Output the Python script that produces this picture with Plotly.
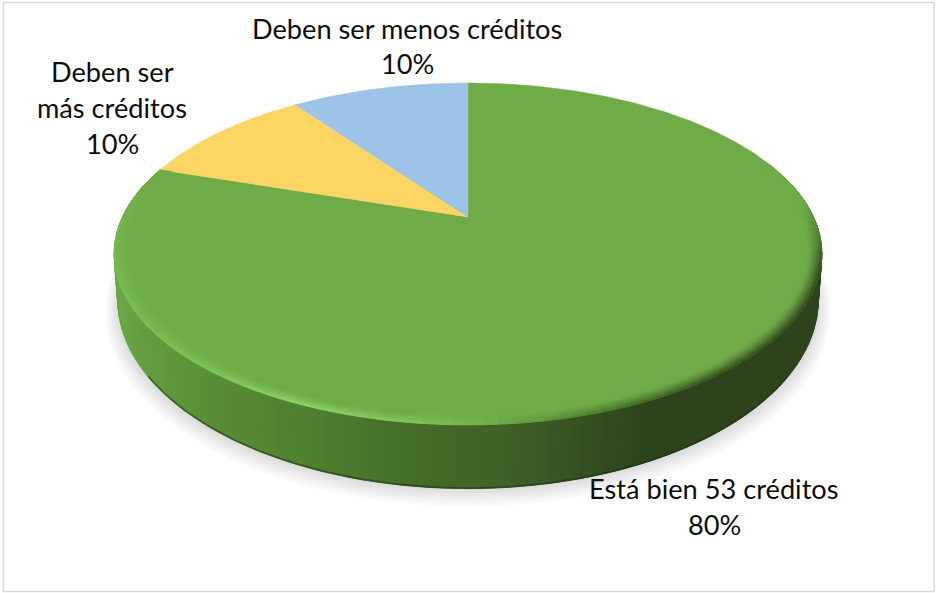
import numpy as np
import plotly.graph_objects as go

# ---- data ----
categories = ["Está bien 53 créditos", "Deben ser más créditos", "Deben ser menos créditos"]
values = [80, 10, 10]
label_lines = [["Está bien 53 créditos"], ["Deben ser", "más créditos"], ["Deben ser menos créditos"]]
colors = ["#6FAC47", "#FCD665", "#9DC3E6"]

# ---- look of the 3D disc ----
W, H = 936, 593
CX = 468.0
PERSP = 0.216
TOP = dict(A=345.5, B=163.0, ya=217.0)
BOT = dict(A=342.0, B=180.0, ya=259.0)
FONT = "Lato"
FS = 27.2
label_pos = [(714, [488.5, 524.5]), (112, [71.5, 107.5, 143.5]), (407, [28.5, 63.5])]

wall_stops = [(115, "#6AA846"), (160, "#5F9A3C"), (230, "#578A36"), (320, "#4E7E30"),
              (420, "#456B2A"), (520, "#3D5F26"), (600, "#324C1F"), (650, "#2C431B"), (830, "#2C431B")]
edge_stops = [(115, "#7ABF52"), (200, "#7FC658"), (290, "#90D86C"), (400, "#84C95E"), (470, "#78B850"),
              (540, "#5C963A"), (620, "#3F6A28"), (720, "#2F491D"), (830, "#2C431B")]


def project(theta_deg, g, r=1.0):
    t = np.radians(np.asarray(theta_deg, dtype=float))
    u, v = r * np.sin(t), r * np.cos(t)
    d = 1 + PERSP * v
    return CX + g["A"] * u / d, g["ya"] - g["B"] * v / d


def hex2rgb(c):
    return np.array([int(c[i:i + 2], 16) for i in (1, 3, 5)], dtype=float)


def ramp(x, stops):
    xs = [s[0] for s in stops]
    rgb = np.array([hex2rgb(s[1]) for s in stops])
    return np.array([np.interp(x, xs, rgb[:, i]) for i in range(3)])


def css(rgb):
    return "rgb(%d,%d,%d)" % tuple(np.round(rgb).astype(int))


fig = go.Figure()


def poly(xs, ys, fill, seam=True, width=1.0):
    fig.add_trace(go.Scatter(
        x=list(xs), y=list(ys), mode="lines", fill="toself", fillcolor=fill,
        line=dict(color=fill if seam else "rgba(0,0,0,0)", width=width if seam else 0),
        hoverinfo="skip", showlegend=False))


# soft shadow under the disc
tt = np.linspace(0, 2 * np.pi, 181)
layers = 9
for i in range(layers):
    f = i / (layers - 1)
    rx, ry = 363 - 13 * f, 195 - 10 * f
    cy = 312 - 7 * f
    poly(CX + rx * np.cos(tt), cy + ry * np.sin(tt), "rgba(0,0,0,0.014)", seam=False)

# side wall
edges = np.arange(78, 282.01, 1.5)
for a, b in zip(edges[:-1], edges[1:]):
    xa, ya = project(a, TOP)
    xb, yb = project(b, TOP)
    xc, yc = project(b, BOT)
    xd, yd = project(a, BOT)
    col = ramp((xa + xb + xc + xd) / 4, wall_stops)
    poly([xa, xb, xc, xd, xa], [ya, yb, yc, yd, ya], css(col))

# thin dark line along the foot of the wall
foot = np.arange(125, 235.01, 1.0)
fx, fy = project(foot, BOT)
fig.add_trace(go.Scatter(x=fx, y=fy - 0.6, mode="lines", line=dict(color="rgba(30,50,18,0.55)", width=1.6),
                         hoverinfo="skip", showlegend=False))

# top face: one wedge per value, from the cumulative shares
total = sum(values)
start = 0.0
spans = []
for val, col in zip(values, colors):
    end = start + 360.0 * val / total
    th = np.linspace(start, end, max(int(end - start) * 2, 2))
    x, y = project(th, TOP)
    ax, ay = project(0.0, TOP, r=0.0)
    poly(np.r_[ax, x, ax], np.r_[ay, y, ay], col, width=0.5)
    spans.append((start, end))
    start = end

# bevel on the rim of the first (green) wedge
base = hex2rgb(colors[0])
rings = np.linspace(1.0, 0.958, 9)
steps = np.arange(spans[0][0] + 70, spans[0][1] + 0.01, 2.0)
for a, b in zip(steps[:-1], steps[1:]):
    m = (a + b) / 2
    # the bevel fades towards the far side of the disc
    fade = np.clip((0.10 - np.cos(np.radians(m))) / 0.4, 0, 1)
    if m > 258:
        fade = max(fade, 0.75 * np.clip((286 - m) / 28, 0, 1))
    xm, _ = project(m, TOP)
    edge = ramp(xm, edge_stops)
    for k, (r1, r2) in enumerate(zip(rings[:-1], rings[1:])):
        s = (r1 + r2) / 2
        rel = (1.0 - s) / (1.0 - rings[-1])
        # peak just inside the outer edge, dying away inwards
        w = fade * (1 - rel) ** 1.4
        col = base * (1 - w) + edge * w
        x1, y1 = project(a, TOP, r1)
        x2, y2 = project(b, TOP, r1)
        x3, y3 = project(b, TOP, r2)
        x4, y4 = project(a, TOP, r2)
        poly([x1, x2, x3, x4, x1], [y1, y2, y3, y4, y1], css(col), width=0.6)

# labels
ann = []
for lines, val, (lx, lys) in zip(label_lines, values, label_pos):
    pct = "%d%%" % round(100 * val / total)
    for txt, ly in zip(lines + [pct], lys):
        ann.append(dict(x=lx, y=ly, text=txt, xref="x", yref="y", showarrow=False, xanchor="center",
                        yanchor="middle", font=dict(family=FONT, size=FS, color="#0d0d0d")))

fig.update_layout(
    width=W, height=H, margin=dict(l=0, r=0, t=0, b=0),
    paper_bgcolor="white", plot_bgcolor="white", showlegend=False, annotations=ann,
    xaxis=dict(range=[0, W], visible=False, fixedrange=True),
    yaxis=dict(range=[H, 0], visible=False, fixedrange=True),
    shapes=[dict(type="rect", xref="x", yref="y", x0=3.5, y0=2.5, x1=934, y1=591.5,
                 line=dict(color="#D9D9D9", width=1.5), fillcolor="rgba(0,0,0,0)")],
)
fig.write_html("out.html", config={"displayModeBar": False},
               post_script="document.body.style.margin='0';document.documentElement.style.overflow='hidden';")
